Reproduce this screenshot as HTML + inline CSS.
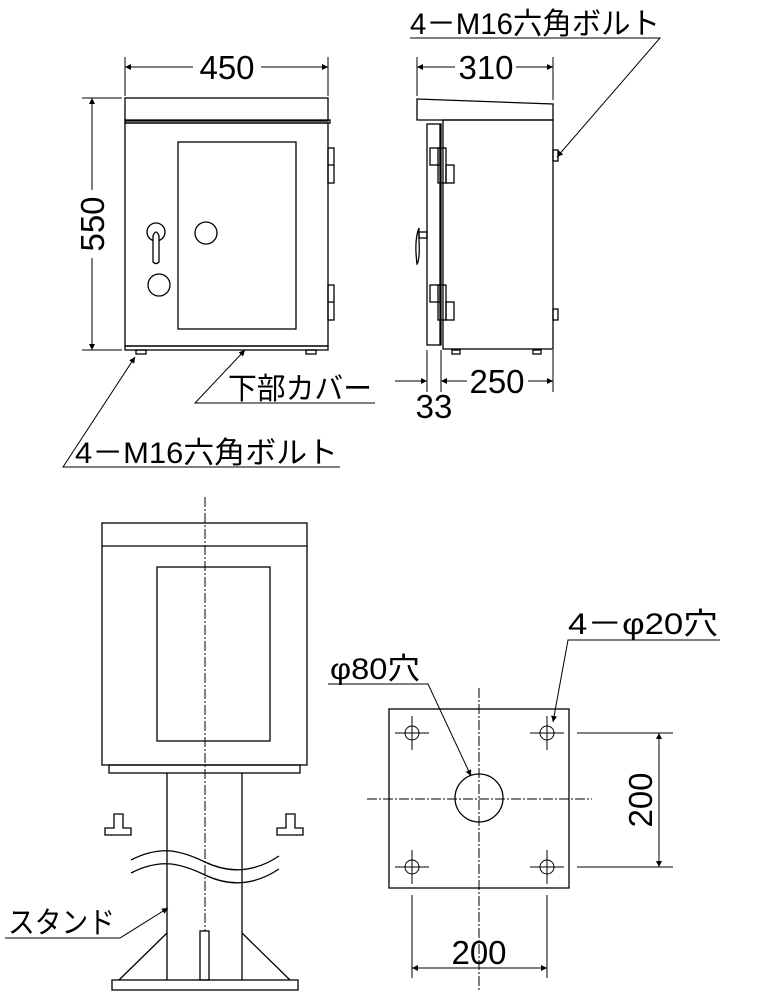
<!DOCTYPE html>
<html><head><meta charset="utf-8"><style>
html,body{margin:0;padding:0;background:#fff}
svg{display:block}
text{font-family:"Liberation Sans","Noto Sans CJK JP",sans-serif;fill:#000}
</style></head><body>
<svg width="770" height="1000" viewBox="0 0 770 1000" xmlns="http://www.w3.org/2000/svg">
<defs>
<marker id="a" viewBox="0 0 10 10" refX="10" refY="5" markerWidth="10" markerHeight="6" orient="auto-start-reverse" markerUnits="userSpaceOnUse"><path d="M0,0L10,5L0,10z" fill="#000"/></marker>
</defs>
<g fill="none" stroke="#000" stroke-width="1.3">
<rect x="125" y="98" width="203" height="23" fill="#fff"/>
<rect x="125" y="120" width="205" height="3"/>
<rect x="125" y="123" width="203" height="223"/>
<rect x="125" y="346" width="203" height="4"/>
<rect x="178" y="142" width="118" height="187"/>
<rect x="328" y="148" width="6" height="35"/><line x1="328" y1="165" x2="334" y2="165"/>
<rect x="328" y="285" width="6" height="35"/><line x1="328" y1="302" x2="334" y2="302"/>
<circle cx="156" cy="232" r="9"/>
<path d="M153,236 L153,262 Q156,265 159,262 L159,236 Q156,228 153,236z" fill="#fff"/>
<circle cx="206" cy="233" r="11"/>
<circle cx="159" cy="285" r="11"/>
<rect x="136" y="350" width="10" height="4"/><rect x="306" y="350" width="10" height="4"/>
<line x1="125" y1="57" x2="125" y2="96" stroke-width="1"/><line x1="328" y1="57" x2="328" y2="96" stroke-width="1"/>
<line x1="125" y1="67" x2="193" y2="67" stroke-width="1" marker-start="url(#a)"/><line x1="261" y1="67" x2="328" y2="67" stroke-width="1" marker-end="url(#a)"/>
<line x1="82" y1="98" x2="122" y2="98" stroke-width="1"/><line x1="82" y1="350" x2="122" y2="350" stroke-width="1"/>
<line x1="92" y1="98" x2="92" y2="190" stroke-width="1" marker-start="url(#a)"/><line x1="92" y1="258" x2="92" y2="350" stroke-width="1" marker-end="url(#a)"/>
<polyline points="340,467 63,467 135,357" stroke-width="1" marker-end="url(#a)"/>
<polyline points="375,403 195,403 245,350" stroke-width="1" marker-end="url(#a)"/>
<path d="M417,99 L553,104 L553,120 L417,120z"/>
<rect x="443" y="120" width="110" height="229"/>
<rect x="427" y="124" width="14" height="221"/>
<line x1="440" y1="124" x2="440" y2="345"/>
<rect x="430" y="148" width="10" height="17"/><rect x="438" y="148" width="8" height="35"/><rect x="446" y="165" width="8" height="18"/>
<rect x="430" y="285" width="10" height="17"/><rect x="438" y="285" width="8" height="35"/><rect x="446" y="302" width="8" height="18"/>
<path d="M419,228 Q414,240 417,264 Q420,260 419,240z"/><rect x="419" y="232" width="8" height="6"/>
<rect x="553" y="150" width="5" height="11"/><rect x="553" y="309" width="5" height="11"/>
<rect x="452" y="350" width="8" height="4"/><rect x="533" y="350" width="8" height="4"/>
<line x1="417" y1="57" x2="417" y2="96" stroke-width="1"/><line x1="553" y1="57" x2="553" y2="100" stroke-width="1"/>
<line x1="417" y1="67" x2="455" y2="67" stroke-width="1" marker-start="url(#a)"/><line x1="516" y1="67" x2="553" y2="67" stroke-width="1" marker-end="url(#a)"/>
<polyline points="410,38 660,38 557,157" stroke-width="1" marker-end="url(#a)"/>
<line x1="427" y1="350" x2="427" y2="392" stroke-width="1"/><line x1="441" y1="350" x2="441" y2="392" stroke-width="1"/><line x1="553" y1="350" x2="553" y2="392" stroke-width="1"/>
<line x1="395" y1="381" x2="427" y2="381" stroke-width="1" marker-end="url(#a)"/>
<line x1="441" y1="381" x2="467" y2="381" stroke-width="1" marker-start="url(#a)"/><line x1="528" y1="381" x2="553" y2="381" stroke-width="1" marker-end="url(#a)"/>
<rect x="102" y="523" width="205" height="242"/><line x1="102" y1="546" x2="307" y2="546"/>
<rect x="157" y="567" width="113" height="174"/>
<rect x="109" y="765" width="191" height="8"/>
<line x1="167" y1="773" x2="167" y2="980"/><line x1="242" y1="773" x2="242" y2="980"/>
<rect x="112" y="980" width="186" height="10"/>
<line x1="167" y1="933" x2="119" y2="980"/><line x1="242" y1="933" x2="290" y2="980"/>
<rect x="200" y="931" width="9" height="49"/>
<path d="M105,835 L131,835 L131,828 L123,828 L123,814 L114,814 L114,828 L105,828z"/>
<path d="M277,835 L303,835 L303,828 L295,828 L295,814 L286,814 L286,828 L277,828z"/>
<path d="M131,860 C160,845 180,850 205,862 C230,874 255,872 279,856"/>
<path d="M131,873 C160,858 180,863 205,875 C230,887 255,885 279,869"/>
<line x1="205" y1="497" x2="205" y2="931" stroke-width="1" stroke-dasharray="10,2,2,2"/>
<polyline points="5,938 120,938 168,908" stroke-width="1" marker-end="url(#a)"/>
<rect x="389" y="709" width="180" height="179"/>
<circle cx="479" cy="798" r="24"/>
<line x1="479" y1="688" x2="479" y2="990" stroke-width="1" stroke-dasharray="10,2,2,2"/>
<line x1="367" y1="799" x2="592" y2="799" stroke-width="1" stroke-dasharray="10,2,2,2"/>
<g stroke-width="1">
<circle cx="412" cy="733" r="7"/><line x1="395" y1="733" x2="429" y2="733"/><line x1="412" y1="716" x2="412" y2="750"/>
<circle cx="547" cy="733" r="7"/><line x1="530" y1="733" x2="564" y2="733"/><line x1="547" y1="716" x2="547" y2="750"/>
<circle cx="412" cy="867" r="7"/><line x1="395" y1="867" x2="429" y2="867"/><line x1="412" y1="850" x2="412" y2="884"/>
<circle cx="547" cy="867" r="7"/><line x1="530" y1="867" x2="564" y2="867"/><line x1="547" y1="850" x2="547" y2="884"/>
<line x1="577" y1="733" x2="673" y2="733"/><line x1="577" y1="867" x2="673" y2="867"/>
<line x1="659" y1="733" x2="659" y2="867" marker-start="url(#a)" marker-end="url(#a)"/>
<line x1="412" y1="895" x2="412" y2="978"/><line x1="547" y1="895" x2="547" y2="978"/>
<line x1="412" y1="968" x2="547" y2="968" marker-start="url(#a)" marker-end="url(#a)"/>
<polyline points="328,684 428,684 471,776" marker-end="url(#a)"/>
<polyline points="720,640 568,640 553,722" marker-end="url(#a)"/>
</g>
</g>
<g font-size="33">
<text x="227" y="79" text-anchor="middle">450</text>
<text x="486" y="79" text-anchor="middle">310</text>
<text transform="translate(104,224) rotate(-90)" text-anchor="middle">550</text>
<text x="497" y="393" text-anchor="middle">250</text>
<text x="434" y="418" text-anchor="middle">33</text>
<text x="479" y="964" text-anchor="middle">200</text>
<text transform="translate(652,800) rotate(-90)" text-anchor="middle">200</text>
</g>
<g font-size="30">
<text x="410" y="34" textLength="250" lengthAdjust="spacingAndGlyphs">4－M16六角ボルト</text>
<text x="228" y="399" textLength="144" lengthAdjust="spacingAndGlyphs">下部カバー</text>
<text x="75" y="463" textLength="263" lengthAdjust="spacingAndGlyphs">4－M16六角ボルト</text>
<text x="8" y="933" textLength="107" lengthAdjust="spacingAndGlyphs">スタンド</text>
<text x="330" y="679" textLength="90" lengthAdjust="spacingAndGlyphs">φ80穴</text>
<text x="568" y="634" textLength="150" lengthAdjust="spacingAndGlyphs">4－φ20穴</text>
</g>
</svg>
</body></html>
